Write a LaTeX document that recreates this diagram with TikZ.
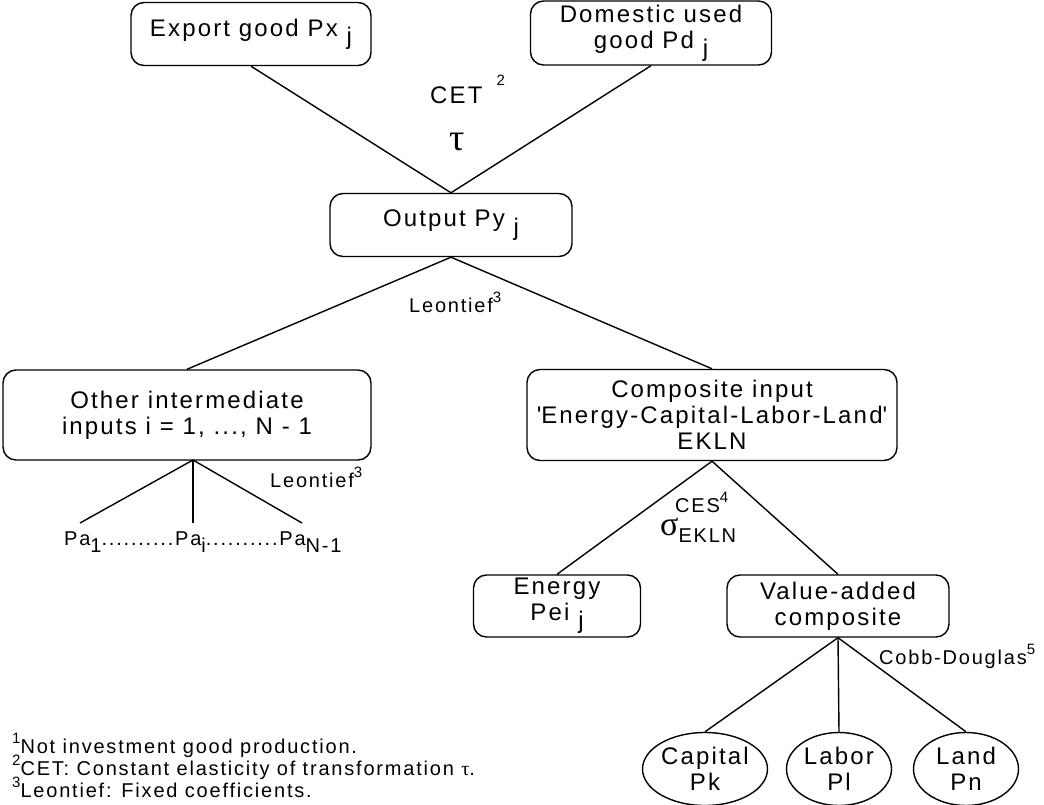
\documentclass[tikz,border=0pt]{standalone}
\usepackage{fontspec}
\setmainfont{Liberation Sans}[LetterSpace=9]
\newfontfamily\grk{Liberation Serif}
\usetikzlibrary{shapes.geometric, positioning}
\newcommand{\dn}[1]{\raisebox{-0.35em}{#1}}
\newcommand{\up}[1]{\raisebox{0.5em}{\fontsize{15}{15}\selectfont #1}}
\tikzset{
  base/.style = {
    draw, line width=1.4pt, align=center, inner sep=0pt,
    font=\fontsize{24}{26}\selectfont
  },
  box/.style = {
    base, rounded corners=13pt
  },
  factor/.style = {
    base, ellipse, minimum height=73pt
  },
  link/.style = {
    line width=1.4pt
  },
  lbl/.style = {
    inner sep=0pt, font=\fontsize{20}{22}\selectfont
  },
  note/.style = {
    inner sep=0pt, anchor=base west, font=\fontsize{20}{22}\selectfont
  }
}

\begin{document}
\begin{tikzpicture}[x=1pt, y=-1pt]
  \useasboundingbox (0,0) rectangle (1044,805);

  % Top row
  \node[box, minimum width=240pt, minimum height=63pt] (export) at (251,34) {Export good Px \dn{j}};
  \node[box, minimum width=241pt, minimum height=64pt] (domestic) at (651,33) {Domestic used\\good Pd \dn{j}};
  \node[lbl, font=\fontsize{24}{24}\selectfont, anchor=base west] (cet) at (430,104) {CET\hspace{14pt}\raisebox{0.75em}{\fontsize{15}{15}\selectfont 2}};
  \node[lbl] (tau) at (457,142) {\grk\fontsize{38}{38}\selectfont τ};

  % Output
  \node[box, minimum width=242pt, minimum height=63pt] (output) at (451,225) {Output Py \dn{j}};
  \node[lbl, anchor=base west] (leon1) at (409,312) {Leontief\up{3}};

  % Second row
  \node[box, minimum width=368pt, minimum height=90pt] (other) at (187,415) {Other intermediate\\inputs i = 1, ..., N - 1};
  \node[box, minimum width=370pt, minimum height=91pt] (composite) at (712,415) {Composite input\\\textquotesingle Energy-Capital-Labor-Land\textquotesingle\\EKLN};

  % Intermediate inputs
  \node[lbl, anchor=base west] (leon2) at (270,487) {Leontief\up{3}};
  \node[lbl, anchor=base west] (pa) at (64,545) {Pa\dn{1}..........Pa\dn{i}..........Pa\dn{N-1}};
  \coordinate (paroot) at (193,460);
  \coordinate (pafirst) at (80,523);
  \coordinate (pamid) at (193,523);
  \coordinate (palast) at (302,523);

  % Third row
  \node[lbl, anchor=base west] (ces) at (675,512) {CES\up{4}};
  \node[lbl, anchor=base west] (sigma) at (660,535) {{\grk\fontsize{34}{34}\selectfont σ}\dn{EKLN}};
  \node[box, minimum width=167pt, minimum height=62pt] (energy) at (557,606) {Energy\\Pei \dn{j}};
  \node[box, minimum width=222pt, minimum height=62pt] (value) at (838,606) {Value-added\\composite};
  \node[lbl, anchor=base west] (cobb) at (879,664) {Cobb-Douglas\up{5}};

  % Primary factors
  \node[factor, minimum width=125pt] (capital) at (705,769) {Capital\\Pk};
  \node[factor, minimum width=105pt] (labor) at (839,769) {Labor\\Pl};
  \node[factor, minimum width=105pt] (land) at (966,769) {Land\\Pn};

  % Footnotes
  \node[note] (note1) at (12,753) {\up{1}Not investment good production.};
  \node[note] (note2) at (12,775) {\up{2}CET: Constant elasticity of transformation {\grk τ}.};
  \node[note] (note3) at (12,797) {\up{3}Leontief: Fixed coefficients.};

  % Links
  \draw[link] (export.south) -- (output.north);
  \draw[link] (domestic.south) -- (output.north);
  \draw[link] (output.south) -- (other.north);
  \draw[link] (output.south) -- (composite.north);
  \draw[link] (paroot) -- (pafirst);
  \draw[link] (paroot) -- (pamid);
  \draw[link] (paroot) -- (palast);
  \draw[link] (composite.south) -- (energy.north);
  \draw[link] (composite.south) -- (value.north);
  \draw[link] (value.south) -- (capital.north);
  \draw[link] (value.south) -- (labor.north);
  \draw[link] (value.south) -- (land.north);

\end{tikzpicture}
\end{document}
